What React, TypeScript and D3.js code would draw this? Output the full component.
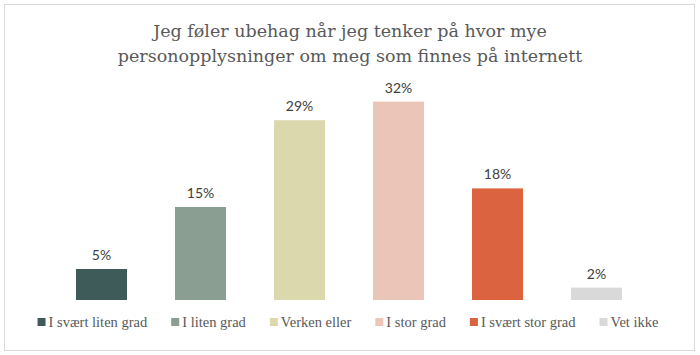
import React, { useEffect, useRef } from "react";
import * as d3 from "d3";

const categories = [
  "I svært liten grad",
  "I liten grad",
  "Verken eller",
  "I stor grad",
  "I svært stor grad",
  "Vet ikke",
];
const values = [5, 15, 29, 32, 18, 2];
const colors = ["#3E5B59", "#8A9E91", "#DBD8AE", "#EBC6B8", "#DB633F", "#D9D9D9"];
const titleLines = [
  "Jeg føler ubehag når jeg tenker på hvor mye",
  "personopplysninger om meg som finnes på internett",
];

const W = 700;
const H = 355;

export default function App() {
  const ref = useRef<SVGSVGElement>(null);

  useEffect(() => {
    const svg = d3.select(ref.current);
    svg.selectAll("*").remove();

    svg
      .append("rect")
      .attr("x", 4.5)
      .attr("y", 4.5)
      .attr("width", 690)
      .attr("height", 346)
      .attr("fill", "#fff")
      .attr("stroke", "#D9D9D9")
      .attr("stroke-width", 1);

    const title = svg
      .append("text")
      .attr("text-anchor", "middle")
      .attr("fill", "#595959")
      .style("font-family", "'DejaVu Serif', serif")
      .style("font-size", "17.5px");
    titleLines.forEach((line, i) => {
      title
        .append("tspan")
        .attr("x", 350)
        .attr("y", 37 + i * 25)
        .text(line);
    });

    const x = d3
      .scaleBand<string>()
      .domain(categories)
      .range([52, 646])
      .paddingInner(0.485)
      .paddingOuter(0.2425);
    const y = d3.scaleLinear().domain([0, 35]).range([300, 83]);

    const g = svg.append("g");
    g.selectAll("rect.bar")
      .data(values)
      .join("rect")
      .attr("class", "bar")
      .attr("x", (_, i) => x(categories[i])!)
      .attr("y", (d) => y(d))
      .attr("width", x.bandwidth())
      .attr("height", (d) => y(0) - y(d))
      .attr("fill", (_, i) => colors[i]);

    g.selectAll("text.lbl")
      .data(values)
      .join("text")
      .attr("class", "lbl")
      .attr("x", (_, i) => x(categories[i])! + x.bandwidth() / 2)
      .attr("y", (d) => y(d) - 9)
      .attr("text-anchor", "middle")
      .attr("fill", "#404040")
      .style("font-family", "Lato, sans-serif")
      .style("font-size", "14px")
      .text((d) => `${d}%`);

    // Legend
    const legend = svg.append("g");
    const items = legend
      .selectAll("g.item")
      .data(categories)
      .join("g")
      .attr("class", "item");
    const marker = 8;
    const textGap = 3;
    const itemGap = 24;
    items
      .append("rect")
      .attr("width", marker)
      .attr("height", marker)
      .attr("y", 318)
      .attr("fill", (_, i) => colors[i]);
    const texts = items
      .append("text")
      .attr("x", marker + textGap)
      .attr("y", 327)
      .attr("fill", "#595959")
      .style("font-family", "'Liberation Serif', serif")
      .style("font-size", "14.5px")
      .text((d) => d);
    const widths: number[] = [];
    texts.each(function () {
      widths.push((this as SVGTextElement).getComputedTextLength());
    });
    const itemW = widths.map((w) => marker + textGap + w);
    const total = d3.sum(itemW) + itemGap * (itemW.length - 1);
    let cx = 348 - total / 2;
    items.each(function (_, i) {
      d3.select(this).attr("transform", `translate(${cx},0)`);
      cx += itemW[i] + itemGap;
    });
  }, []);

  return (
    <svg
      ref={ref}
      width={W}
      height={H}
      style={{ position: "absolute", left: 0, top: 0, background: "#fff" }}
    />
  );
}
